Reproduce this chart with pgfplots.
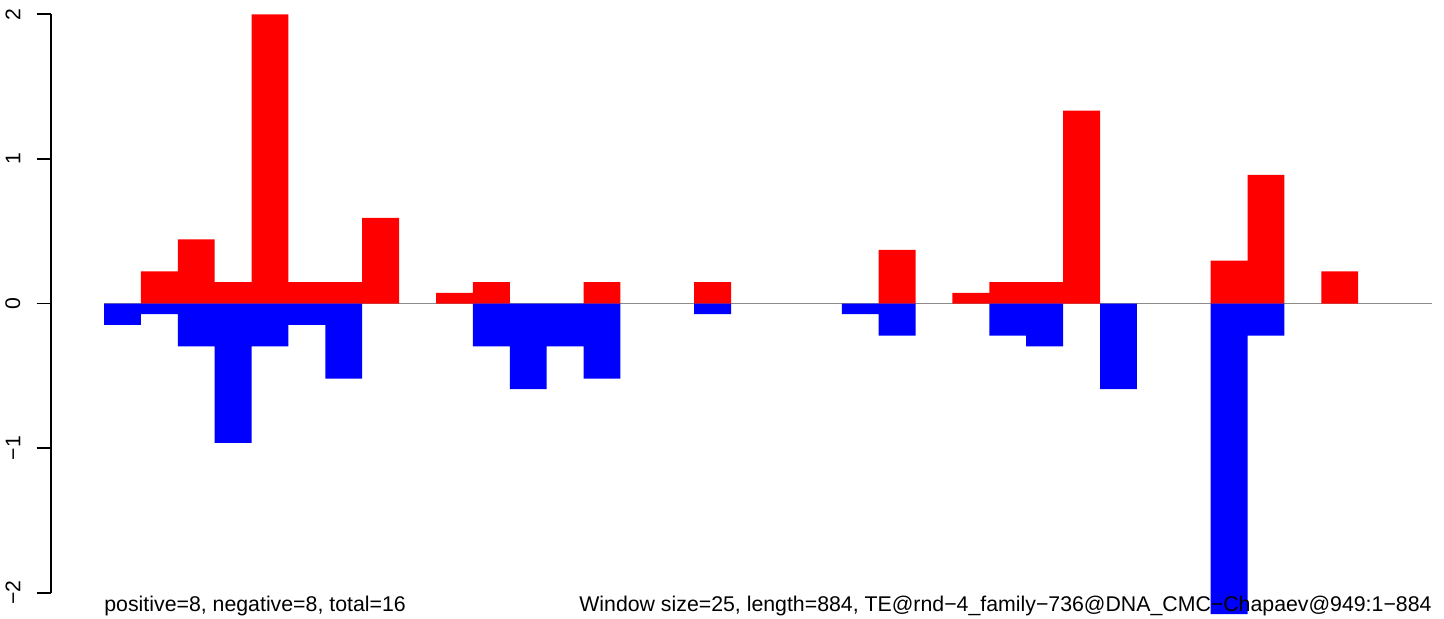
\documentclass[border=0pt]{standalone}
\usepackage{pgfplots}
\pgfplotsset{compat=1.18}
\usepackage{fontspec}
\setmainfont{Liberation Sans}
\definecolor{zline}{RGB}{140,140,140}
\begin{document}
\begin{tikzpicture}
\useasboundingbox (0,0) rectangle (722pt,-309.5pt);
\begin{axis}[
  at={(25.35pt,-296.35pt)}, anchor=south west,
  scale only axis, width=690.65pt, height=289.2pt,
  xmin=-1.445, xmax=36, ymin=-2, ymax=2,
  axis y line=left, axis x line=none,
  axis line style={-, line width=0.8pt, black},
  ytick={-2,-1,0,1,2},
  yticklabels={−2,−1,0,1,2},
  tick align=outside, major tick length=7pt,
  ytick style={line width=0.8pt, black},
  yticklabel style={rotate=90, anchor=south, inner sep=0pt, yshift=8pt, font=\fontsize{10.6}{12}\selectfont},
  clip=false,
  ybar, bar width=1, bar shift=0pt,
]
\addplot[sharp plot, zline, line width=0.6pt] coordinates {(0,0) (36,0)};
\addplot[fill=red, draw=none] coordinates {
(1.5,0.222) (2.5,0.444) (3.5,0.148) (4.5,2.0) (5.5,0.148) (6.5,0.148) (7.5,0.593)
(9.5,0.074) (10.5,0.148) (13.5,0.148) (16.5,0.148) (21.5,0.370) (23.5,0.074)
(24.5,0.148) (25.5,0.148) (26.5,1.333) (30.5,0.296) (31.5,0.889) (33.5,0.222)};
\addplot[fill=blue, draw=none] coordinates {
(0.5,-0.148) (1.5,-0.074) (2.5,-0.296) (3.5,-0.963) (4.5,-0.296) (5.5,-0.148) (6.5,-0.519)
(10.5,-0.296) (11.5,-0.593) (12.5,-0.296) (13.5,-0.519) (16.5,-0.074) (20.5,-0.074)
(21.5,-0.222) (24.5,-0.222) (25.5,-0.296) (27.5,-0.593) (30.5,-2.148) (31.5,-0.222)};
\node[anchor=base west, inner sep=0pt, font=\fontsize{10.65}{12}\selectfont] at (axis cs:0,-2.127) {positive=8, negative=8, total=16};
\node[anchor=base east, inner sep=0pt, font=\fontsize{10.65}{12}\selectfont] at (axis cs:36,-2.127) {Window size=25, length=884, TE@rnd−4\_family−736@DNA\_CMC−Chapaev@949:1−884};
\end{axis}
\end{tikzpicture}
\end{document}
